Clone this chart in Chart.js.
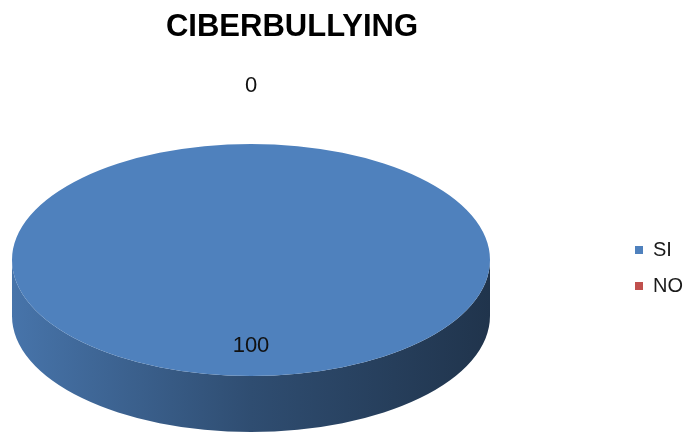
<!DOCTYPE html>
<html>
<head>
<meta charset="utf-8">
<title>CIBERBULLYING</title>
<script src="https://cdn.jsdelivr.net/npm/chart.js@4.4.1/dist/chart.umd.min.js"></script>
<style>
  html, body { margin: 0; padding: 0; background: #fff; }
  #wrap { width: 693px; height: 433px; }
</style>
</head>
<body>
<div id="wrap"><canvas id="pieChart" width="693" height="433"></canvas></div>
<script>
const chartTitle = 'CIBERBULLYING';
const categories = ['SI', 'NO'];
const values = [100, 0];
const sliceColors = ['#4f81bd', '#c0504d'];

const FONT = '"Liberation Sans", Arial, sans-serif';
// where the tilted pie sits on the canvas
const FACE = { cx: 251, cy: 260, rx: 239, ry: 116, depth: 56 };

function shade(hex, k) {
    const n = parseInt(hex.slice(1), 16);
    const r = Math.round(((n >> 16) & 255) * k);
    const g = Math.round(((n >> 8) & 255) * k);
    const b = Math.round((n & 255) * k);
    return `rgb(${r},${g},${b})`;
}

// parts of an arc that face the viewer (lower half, canvas angles)
function frontSpans(start, end) {
    const spans = [];
    [-2 * Math.PI, 0, 2 * Math.PI].forEach(off => {
        const a0 = Math.max(start, off);
        const a1 = Math.min(end, off + Math.PI);
        if (a1 > a0) spans.push([a0 - off, a1 - off]);
    });
    return spans;
}

const pie3d = {
    id: 'pie3d',
    beforeDatasetsDraw(chart) {
        const ctx = chart.ctx;
        const arcs = chart.getDatasetMeta(0).data;
        const ref = arcs[0];

        // rim of the pie
        arcs.forEach((arc, i) => {
            if (arc.endAngle - arc.startAngle <= 0) return;
            const col = sliceColors[i];
            frontSpans(arc.startAngle, arc.endAngle).forEach(([a0, a1]) => {
                const g = ctx.createLinearGradient(FACE.cx - FACE.rx, 0, FACE.cx + FACE.rx, 0);
                g.addColorStop(0, shade(col, 0.9));
                g.addColorStop(0.5, shade(col, 0.6));
                g.addColorStop(1, shade(col, 0.4));
                ctx.beginPath();
                ctx.ellipse(FACE.cx, FACE.cy, FACE.rx, FACE.ry, 0, a0, a1);
                ctx.ellipse(FACE.cx, FACE.cy + FACE.depth, FACE.rx, FACE.ry, 0, a1, a0, true);
                ctx.closePath();
                ctx.fillStyle = g;
                ctx.fill();
            });
        });

        // squash the library's round pie into the tilted top face
        ctx.save();
        ctx.translate(FACE.cx, FACE.cy);
        ctx.scale(FACE.rx / ref.outerRadius, FACE.ry / ref.outerRadius);
        ctx.translate(-ref.x, -ref.y);
    },
    afterDatasetsDraw(chart) {
        const ctx = chart.ctx;
        ctx.restore();

        // value labels, empty slices get theirs outside the pie
        const arcs = chart.getDatasetMeta(0).data;
        ctx.save();
        ctx.font = `22px ${FONT}`;
        ctx.fillStyle = '#111';
        ctx.textAlign = 'center';
        ctx.textBaseline = 'middle';
        arcs.forEach((arc, i) => {
            const mid = (arc.startAngle + arc.endAngle) / 2;
            const f = values[i] === 0 ? 1.5 : 0.74;
            const x = FACE.cx + FACE.rx * f * Math.cos(mid);
            const y = FACE.cy + FACE.ry * f * Math.sin(mid);
            ctx.fillText(String(values[i]), x, y);
        });
        ctx.restore();
    },
    afterDraw(chart) {
        const ctx = chart.ctx;
        ctx.save();
        ctx.font = `bold 31px ${FONT}`;
        ctx.fillStyle = '#000';
        ctx.textAlign = 'center';
        ctx.textBaseline = 'middle';
        ctx.fillText(chartTitle, 292, 27);
        ctx.restore();
    }
};

new Chart(document.getElementById('pieChart'), {
    type: 'pie',
    data: {
        labels: categories,
        datasets: [{
            data: values,
            backgroundColor: sliceColors,
            borderWidth: 0,
            clip: false
        }]
    },
    options: {
        responsive: false,
        animation: false,
        events: [],
        layout: { padding: { top: 103 } },
        plugins: {
            title: { display: false },
            tooltip: { enabled: false },
            legend: {
                position: 'right',
                labels: {
                    boxWidth: 8,
                    boxHeight: 8,
                    padding: 16,
                    color: '#1a1a1a',
                    font: { family: FONT, size: 20 }
                }
            }
        }
    },
    plugins: [pie3d]
});
</script>
</body>
</html>
